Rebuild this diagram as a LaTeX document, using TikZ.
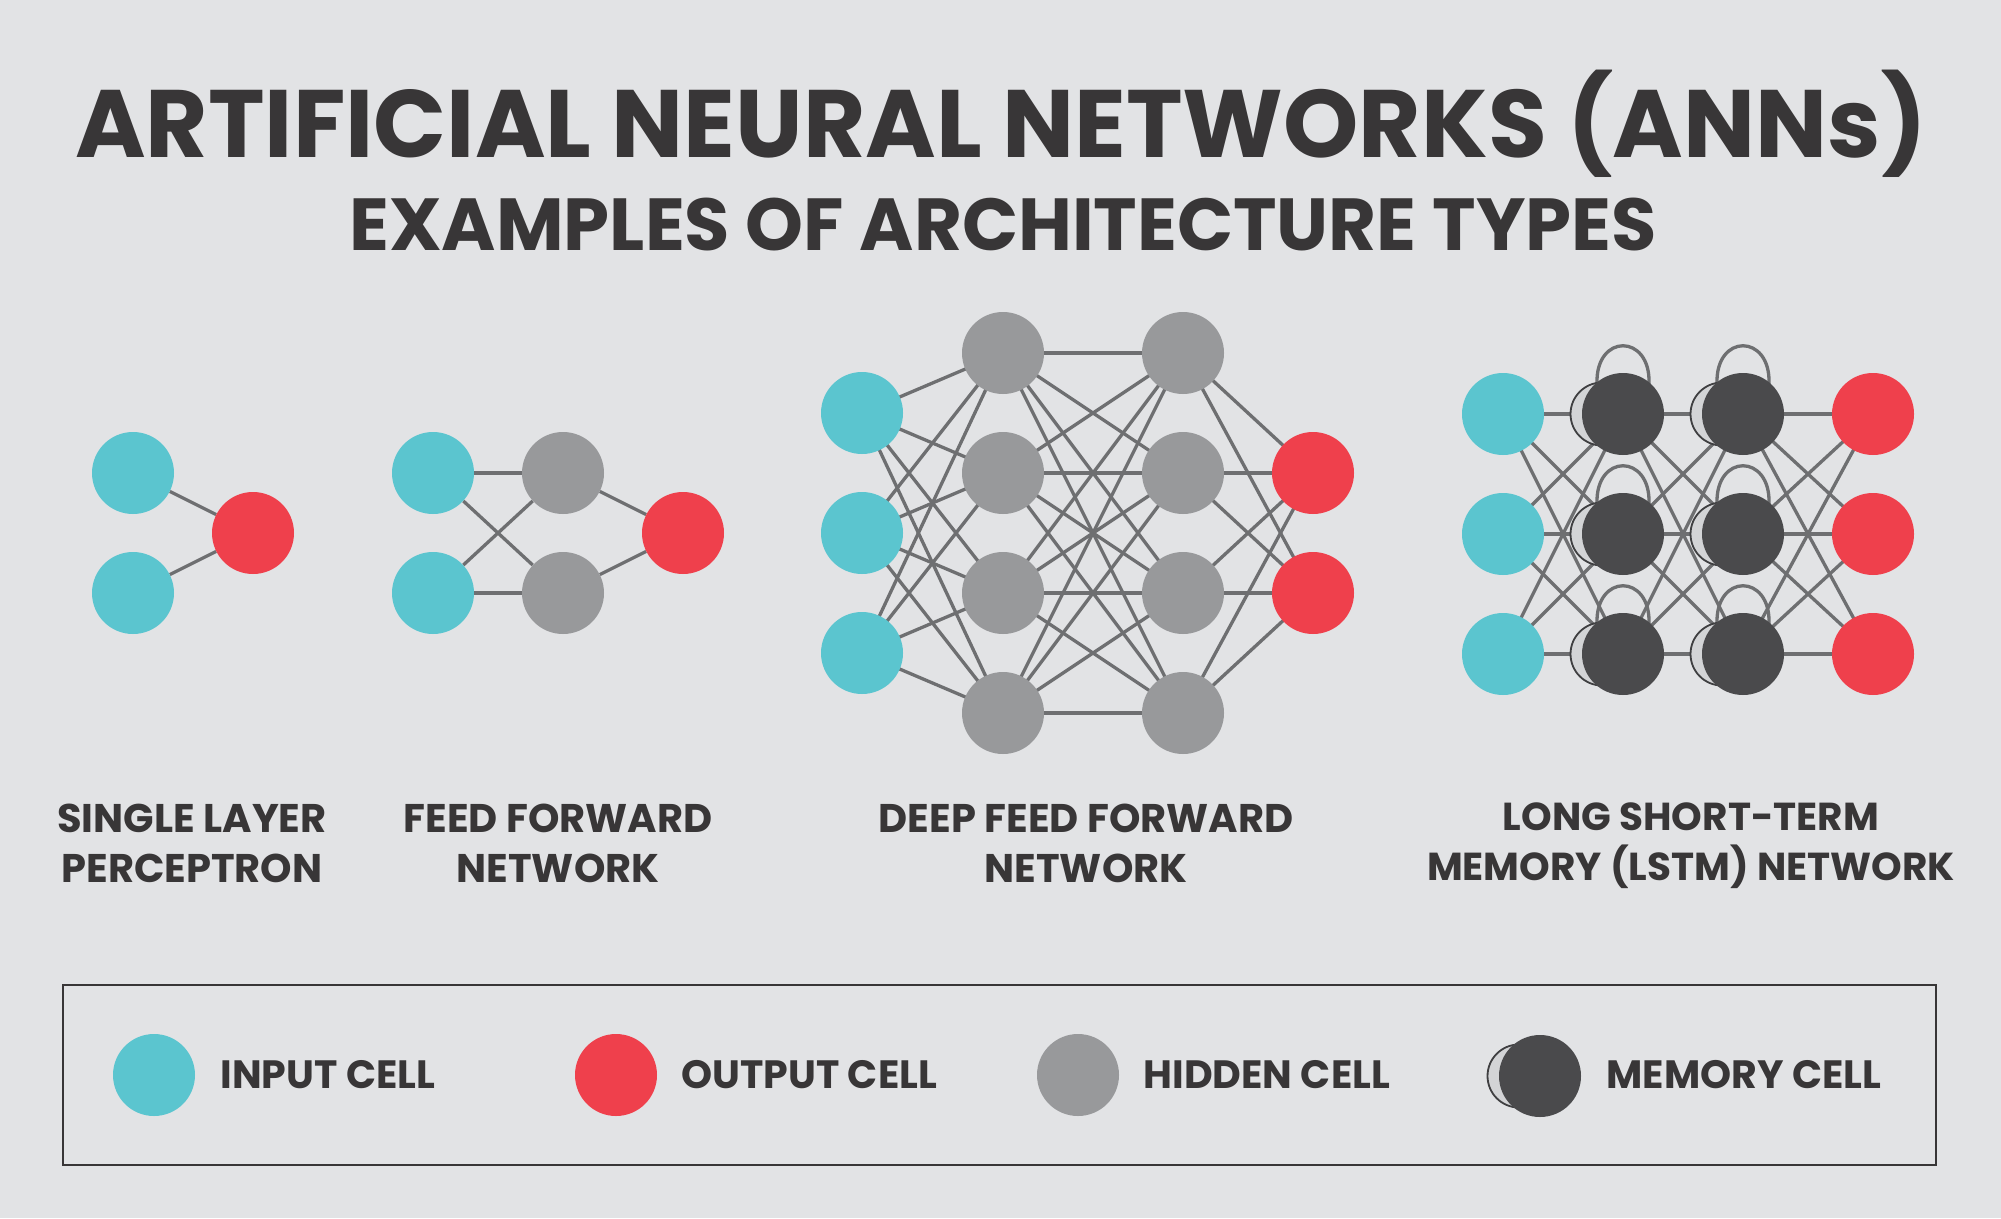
\documentclass[tikz,border=0pt]{standalone}
\usepackage{fontspec}
\setmainfont{Poppins}
\usetikzlibrary{positioning}
\definecolor{bgcol}{HTML}{E2E3E5}
\definecolor{inkcol}{HTML}{383637}
\definecolor{incol}{HTML}{5BC5CF}
\definecolor{outcol}{HTML}{EF404C}
\definecolor{hidcol}{HTML}{98999B}
\definecolor{memcol}{HTML}{4A4A4C}
\definecolor{memlite}{HTML}{D3D4D6}
\definecolor{wirecol}{HTML}{6E6F71}

\pgfdeclarelayer{back}
\pgfdeclarelayer{wires}
\pgfsetlayers{back,wires,main}

\tikzset{
  cell/.style={circle, inner sep=0pt, minimum size=82pt},
  incell/.style={cell, fill=incol},
  outcell/.style={cell, fill=outcol},
  hidcell/.style={cell, fill=hidcol},
  memcell/.style={cell, fill=memcol},
  memback/.style={circle, inner sep=0pt, minimum size=63pt, fill=memlite,
    draw=memcol!85!black, line width=1.8pt},
  link/.style={draw=wirecol, line width=3.3pt},
  netlabel/.style={text=inkcol, align=center, font=\bfseries\fontsize{40}{50}\selectfont},
  keylabel/.style={text=inkcol, anchor=west, font=\bfseries\fontsize{39.5}{40}\selectfont}
}

% memory cell: pale ring behind, dark disc in front
\newcommand{\memnode}[3]{%
  \node[memback] (#1b) at (#2-21,#3) {};
  \node[memcell] (#1) at (#2,#3) {};}
% self loop above a memory cell
\newcommand{\selfloop}[1]{%
  \draw[link] ([shift={(-26,-30)}]#1.center)
    .. controls ([shift={(-28,-81)}]#1.center) and ([shift={(28,-81)}]#1.center)
    .. ([shift={(26,-30)}]#1.center);}

\begin{document}
\begin{tikzpicture}[x=1pt, y=-1pt]
  \useasboundingbox (0,0) rectangle (2001,1218);
  \begin{pgfonlayer}{back}
    \fill[bgcol] (0,0) rectangle (2001,1218);
  \end{pgfonlayer}

  %% Titles
  \node[text=inkcol, font=\bfseries\fontsize{95.8}{96}\selectfont] (title) at (1001,124)
    {ARTIFICIAL NEURAL NETWORKS (ANNs)};
  \node[text=inkcol, font=\bfseries\fontsize{73.7}{74}\selectfont] (subtitle) at (1003,225)
    {EXAMPLES OF ARCHITECTURE TYPES};

  %% Single layer perceptron
  \node[incell] (sin1) at (133,473) {};
  \node[incell] (sin2) at (133,593) {};
  \node[outcell] (sout) at (253,533) {};
  \begin{pgfonlayer}{wires}
    \draw[link] (sin1) -- (sout);
    \draw[link] (sin2) -- (sout);
  \end{pgfonlayer}
  \node[netlabel] (slabel) at (192,843) {SINGLE LAYER\\PERCEPTRON};

  %% Feed forward network
  \node[incell] (fin1) at (433,473) {};
  \node[incell] (fin2) at (433,593) {};
  \node[hidcell] (fhid1) at (563,473) {};
  \node[hidcell] (fhid2) at (563,593) {};
  \node[outcell] (fout) at (683,533) {};
  \begin{pgfonlayer}{wires}
    \foreach \i in {1,2}{
      \foreach \j in {1,2}
        \draw[link] (fin\i) -- (fhid\j);
      \draw[link] (fhid\i) -- (fout);
    }
  \end{pgfonlayer}
  \node[netlabel] (flabel) at (558,843) {FEED FORWARD\\NETWORK};

  %% Deep feed forward network
  \foreach \i/\y in {1/413,2/533,3/653}
    \node[incell] (din\i) at (862,\y) {};
  \foreach \i/\y in {1/353,2/473,3/593,4/713}{
    \node[hidcell] (dha\i) at (1003,\y) {};
    \node[hidcell] (dhb\i) at (1183,\y) {};
  }
  \foreach \i/\y in {1/473,2/593}
    \node[outcell] (dout\i) at (1313,\y) {};
  \begin{pgfonlayer}{wires}
    \foreach \j in {1,...,4}{
      \foreach \i in {1,2,3}
        \draw[link] (din\i.center) -- (dha\j.center);
      \foreach \k in {1,...,4}
        \draw[link] (dha\j.center) -- (dhb\k.center);
      \foreach \k in {1,2}
        \draw[link] (dhb\j.center) -- (dout\k.center);
    }
  \end{pgfonlayer}
  \node[netlabel] (dlabel) at (1086,843) {DEEP FEED FORWARD\\NETWORK};

  %% LSTM network
  \foreach \i/\y in {1/414,2/534,3/654}{
    \node[incell] (lin\i) at (1503,\y) {};
    \memnode{lma\i}{1623}{\y}
    \memnode{lmb\i}{1743}{\y}
    \node[outcell] (lout\i) at (1873,\y) {};
  }
  \begin{pgfonlayer}{wires}
    \foreach \i in {1,2,3}{
      \foreach \j in {1,2,3}{
        \draw[link] (lin\i.center) -- (lma\j.center);
        \draw[link] (lma\i.center) -- (lmb\j.center);
        \draw[link] (lmb\i.center) -- (lout\j.center);
      }
      \selfloop{lma\i}
      \selfloop{lmb\i}
    }
  \end{pgfonlayer}
  \node[netlabel, font=\bfseries\fontsize{39}{50}\selectfont] (llabel) at (1691,846)
    {LONG SHORT-TERM\\MEMORY (LSTM) NETWORK};

  %% Legend
  \draw[draw=inkcol, line width=2pt] (63,985) rectangle (1936,1165);
  \node[incell] (kin) at (154,1075) {};
  \node[keylabel] (kintext) at (217,1075) {INPUT CELL};
  \node[outcell] (kout) at (616,1075) {};
  \node[keylabel] (kouttext) at (678,1075) {OUTPUT CELL};
  \node[hidcell] (khid) at (1078,1075) {};
  \node[keylabel] (khidtext) at (1140,1075) {HIDDEN CELL};
  \memnode{kmem}{1540}{1076}
  \node[keylabel] (kmemtext) at (1603,1075) {MEMORY CELL};
\end{tikzpicture}
\end{document}
